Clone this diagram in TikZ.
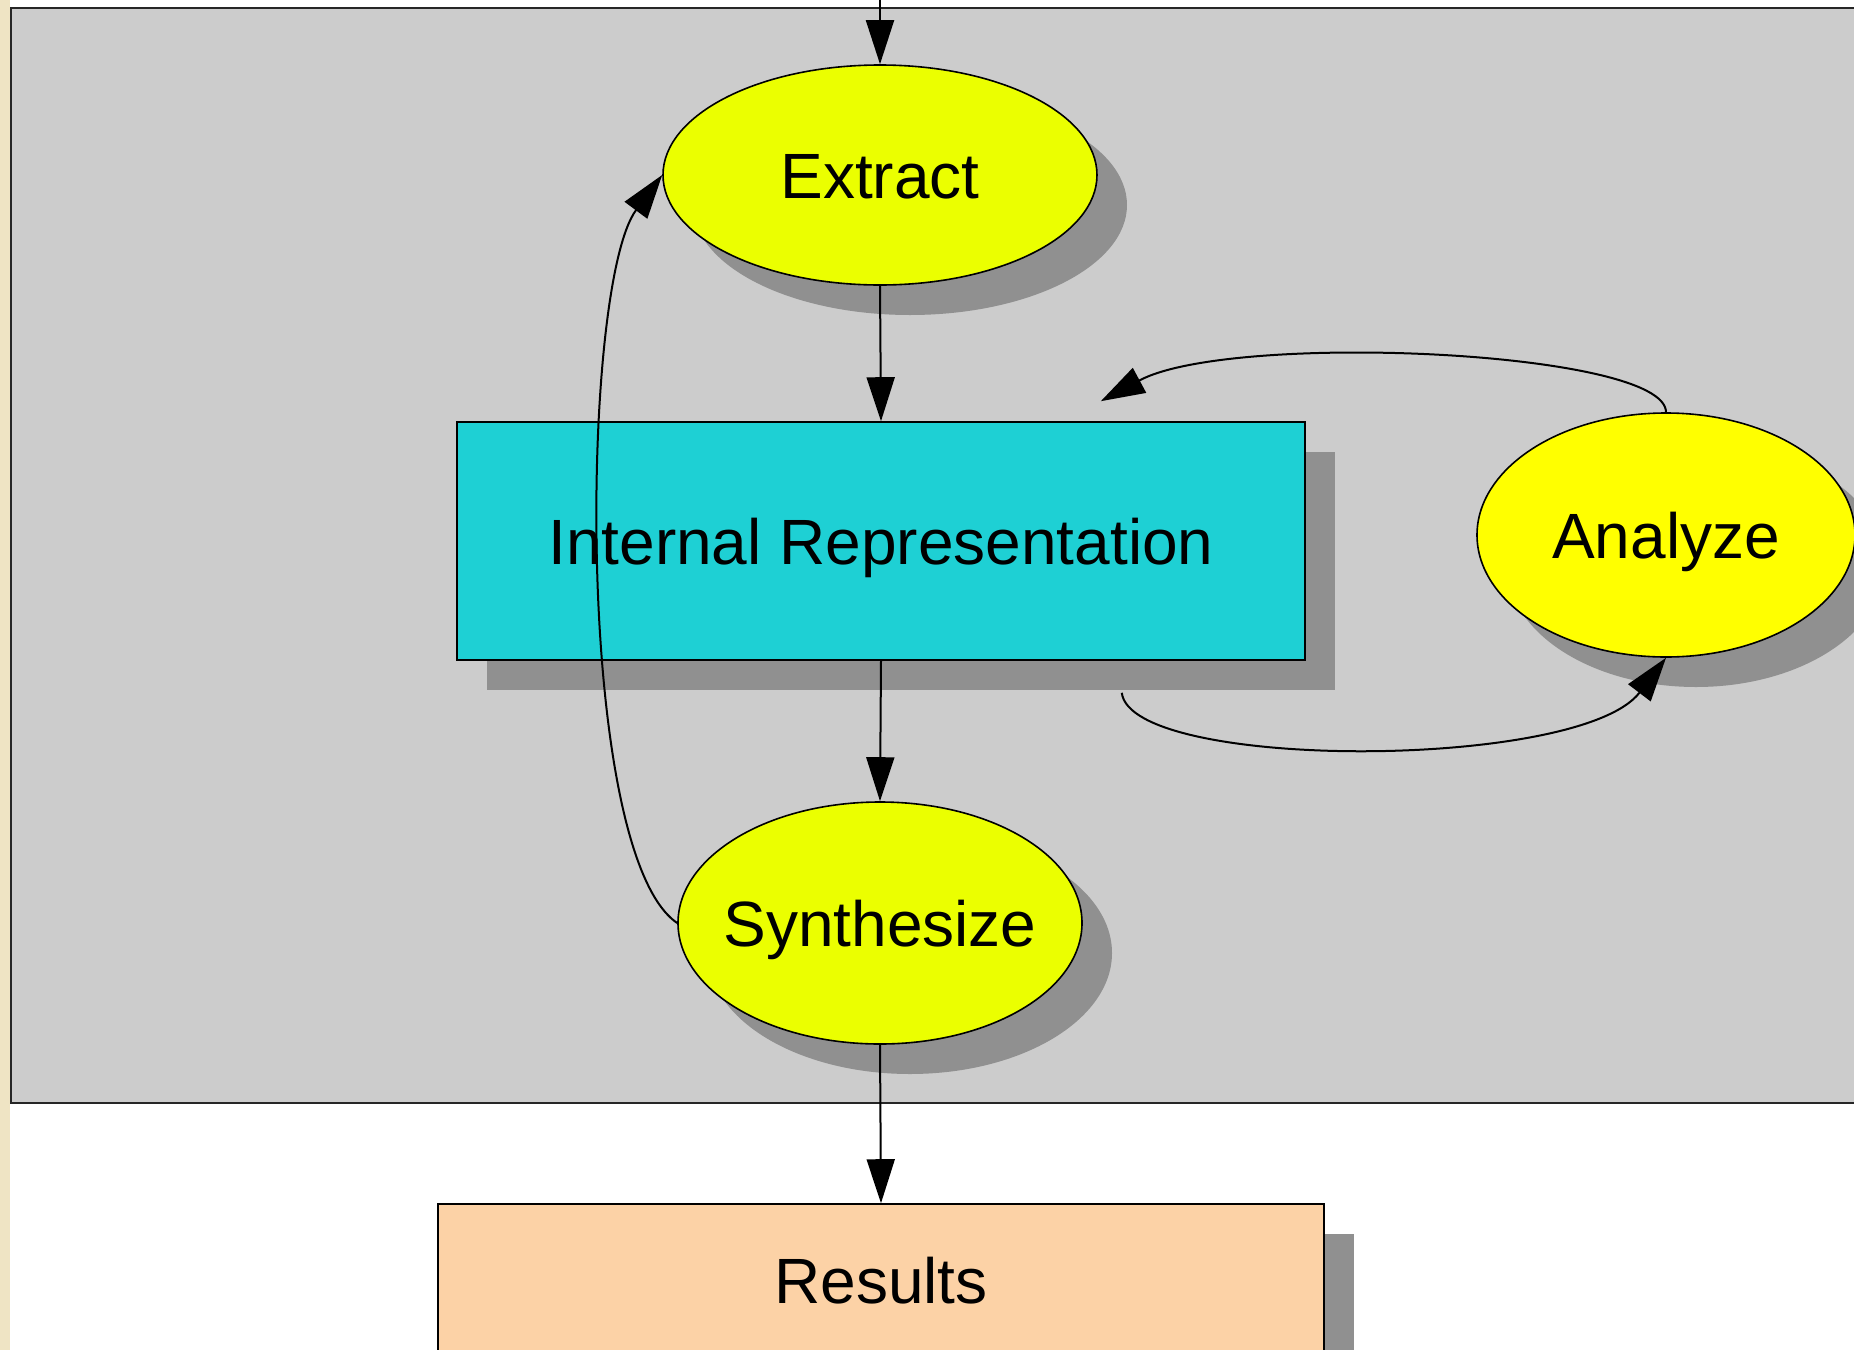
\documentclass[tikz,border=0pt]{standalone}
\usepackage{fontspec}
\setmainfont{Liberation Sans}
\usetikzlibrary{shapes.geometric,shadows,arrows.meta,calc}
\definecolor{panelgray}{HTML}{CCCCCC}
\definecolor{shadowgray}{HTML}{909090}
\definecolor{beige}{HTML}{EFE4C4}
\definecolor{extractyellow}{HTML}{EBFF00}
\definecolor{analyzeyellow}{HTML}{FFFF00}
\definecolor{ircyan}{HTML}{1ED0D4}
\definecolor{resultsorange}{HTML}{FCD2A6}
\begin{document}
\begin{tikzpicture}[x=0.5pt,y=-0.5pt,
  every node/.style={font=\fontsize{32}{38}\selectfont, text height=23pt, text depth=0pt},
  shade/.style={drop shadow={shadow xshift=15pt,shadow yshift=-15pt,fill=shadowgray,opacity=1}},
  ell/.style={ellipse, draw=black, line width=0.8pt, inner sep=0pt, shade},
  box/.style={rectangle, draw=black, line width=0.8pt, inner sep=0pt, shade},
  conn/.style={line width=1pt, -{Triangle[length=22pt,width=14pt]}}
]
\useasboundingbox (0,0) rectangle (1854,1350);
\clip (0,0) rectangle (1854,1350);
\fill[white] (0,0) rectangle (1854,1350);
\fill[beige] (0,0) rectangle (10,1350);
\draw[fill=panelgray, draw=black!85, line width=1.2pt] (11,8) rectangle (1890,1103);

\node[ell, fill=extractyellow, minimum width=217pt, minimum height=110pt] (extract) at (880,175) {\makebox[0pt]{Extract}};
\node[box, fill=ircyan, minimum width=424pt, minimum height=119pt] (ir) at (881,541) {Internal Representation};
\node[ell, fill=analyzeyellow, minimum width=189pt, minimum height=122pt] (analyze) at (1666,535) {\makebox[0pt]{Analyze}};
\node[ell, fill=extractyellow, minimum width=202pt, minimum height=121pt] (synth) at (880,923) {\makebox[0pt]{Synthesize}};
\node[box, fill=resultsorange, minimum width=443pt, minimum height=76pt] (results) at (881,1280) {Results};

\coordinate (topin) at (880,0);
\coordinate (irout) at ($(ir.south east)+(-184,32)$);
\coordinate (irin) at ($(ir.north east)+(-205,-20)$);

\draw[conn] (topin) -- (extract.north);
\draw[conn] (extract.south) -- (ir.north);
\draw[conn] (ir.south) -- (synth.north);
\draw[conn] (synth.south) -- (results.north);
\draw[conn] (synth.west) .. controls +(-103,-70) and +(-82,110) .. (extract.west);
\draw[conn] (irout) .. controls +(9,78) and +(-86,113) .. (analyze.south);
\draw[conn] (analyze.north) .. controls +(0,-62) and +(130,-70) .. (irin);
\end{tikzpicture}
\end{document}
